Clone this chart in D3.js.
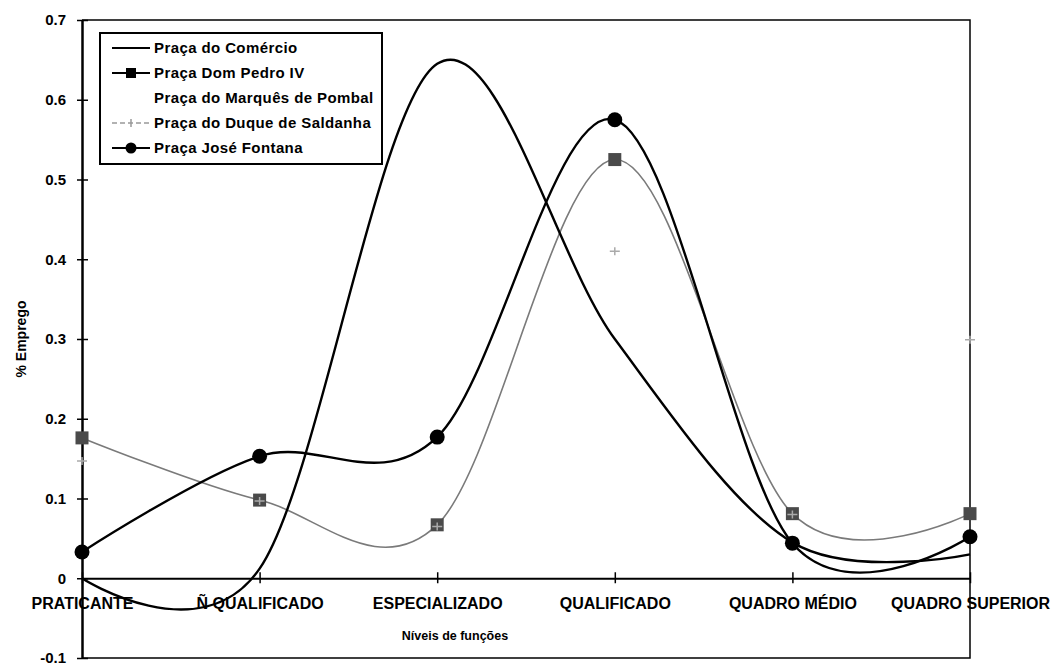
<!DOCTYPE html>
<html>
<head>
<meta charset="utf-8">
<script src="https://cdn.jsdelivr.net/npm/d3@7"></script>
<style>
  html, body { margin: 0; padding: 0; background: #fff; }
  svg { display: block; font-family: "Liberation Sans", Arial, Helvetica, sans-serif; font-weight: bold; }
</style>
</head>
<body>
<svg id="chart" width="1055" height="665"></svg>
<script>
// Job levels (x categories)
const categories = ["PRATICANTE", "Ñ QUALIFICADO", "ESPECIALIZADO", "QUALIFICADO", "QUADRO MÉDIO", "QUADRO SUPERIOR"];

// Share of employment by square
const comercio   = [0.000, 0.012, 0.645, 0.300, 0.045, 0.030];
const domPedro   = [0.176, 0.098, 0.067, 0.525, 0.081, 0.081];
const duque      = [0.147, 0.097, 0.065, 0.410, 0.080, 0.299];
const fontana    = [0.033, 0.153, 0.177, 0.575, 0.044, 0.052];

const seriesNames = ["Praça do Comércio", "Praça Dom Pedro IV", "Praça do Marquês de Pombal", "Praça do Duque de Saldanha", "Praça José Fontana"];

const yTicks = [-0.1, 0, 0.1, 0.2, 0.3, 0.4, 0.5, 0.6, 0.7];

const svg = d3.select("#chart");

const x = d3.scalePoint().domain(categories).range([82, 970]);
const y = d3.scaleLinear().domain([-0.1, 0.7]).range([658, 20]);

// Plot frame (top, right, bottom)
svg.append("path")
  .attr("d", `M${x.range()[0]},${y(0.7)}H${x.range()[1]}V${y(-0.1)}H${x.range()[0]}`)
  .attr("fill", "none").attr("stroke", "#000").attr("stroke-width", 1.5);

// Y axis
const yAxis = svg.append("g")
  .attr("transform", `translate(${x.range()[0]},0)`)
  .call(d3.axisLeft(y).tickValues(yTicks)
    .tickFormat(d => d === 0 ? "0" : (d < 0 ? "-" : "") + Math.abs(d).toFixed(1))
    .tickSizeInner(5).tickSizeOuter(0).tickPadding(11));
yAxis.select(".domain").attr("stroke-width", 2.5);
yAxis.selectAll(".tick line").attr("x1", 6).attr("stroke-width", 1.5);
yAxis.selectAll(".tick text").attr("font-size", 15).attr("font-weight", "bold").attr("fill", "#000")
  .attr("font-family", "'Liberation Sans', Arial, sans-serif");

// X axis at zero
const xAxis = svg.append("g")
  .attr("transform", `translate(0,${y(0)})`)
  .call(d3.axisBottom(x).tickSizeInner(5).tickSizeOuter(0).tickPadding(14));
xAxis.select(".domain").attr("stroke-width", 2);
xAxis.selectAll(".tick line").attr("y1", -6).attr("stroke-width", 1.5);
xAxis.selectAll(".tick text").attr("font-size", 16).attr("font-weight", "bold").attr("fill", "#000")
  .attr("font-family", "'Liberation Sans', Arial, sans-serif");

// Axis titles
svg.append("text")
  .attr("x", 455).attr("y", 640)
  .attr("text-anchor", "middle").attr("font-size", 12.5)
  .text("Níveis de funções");
svg.append("text")
  .attr("transform", "translate(26,339) rotate(-90)")
  .attr("text-anchor", "middle").attr("font-size", 14)
  .text("% Emprego");

// Series curves (smoothed)
const line = d3.line()
  .x((d, i) => x(categories[i]))
  .y(d => y(d))
  .curve(d3.curveCatmullRom.alpha(0));

svg.append("path").datum(domPedro).attr("d", line)
  .attr("fill", "none").attr("stroke", "#7a7a7a").attr("stroke-width", 1.6);
svg.append("path").datum(comercio).attr("d", line)
  .attr("fill", "none").attr("stroke", "#000").attr("stroke-width", 2.4);
svg.append("path").datum(fontana).attr("d", line)
  .attr("fill", "none").attr("stroke", "#000").attr("stroke-width", 2.4);

// Markers
svg.append("g").selectAll("rect").data(domPedro).join("rect")
  .attr("x", (d, i) => x(categories[i]) - 6.5)
  .attr("y", d => y(d) - 6.5)
  .attr("width", 13).attr("height", 13)
  .attr("fill", "#4a4a4a");

svg.append("g").selectAll("path").data(duque).join("path")
  .attr("d", (d, i) => {
    const cx = x(categories[i]), cy = y(d);
    return `M${cx - 5},${cy}H${cx + 5}M${cx},${cy - 4}V${cy + 4}`;
  })
  .attr("stroke", "#aaa").attr("stroke-width", 1.5).attr("fill", "none");

svg.append("g").selectAll("circle").data(fontana).join("circle")
  .attr("cx", (d, i) => x(categories[i]))
  .attr("cy", d => y(d))
  .attr("r", 7.5)
  .attr("fill", "#000");

// Legend
const legend = svg.append("g");
legend.append("rect")
  .attr("x", 100).attr("y", 33).attr("width", 282).attr("height", 131)
  .attr("fill", "#fff").attr("stroke", "#000").attr("stroke-width", 2);

const rowY = i => 48 + i * 25;
const x0 = 112, x1 = 150, xm = (x0 + x1) / 2;

seriesNames.forEach((name, i) => {
  const g = legend.append("g");
  const yy = rowY(i);
  if (i === 0 || i === 1 || i === 4) {
    g.append("line").attr("x1", x0).attr("x2", x1).attr("y1", yy).attr("y2", yy)
      .attr("stroke", "#000").attr("stroke-width", 2);
  }
  if (i === 1) {
    g.append("rect").attr("x", xm - 5).attr("y", yy - 5).attr("width", 10).attr("height", 10).attr("fill", "#000");
  }
  if (i === 3) {
    g.append("line").attr("x1", x0).attr("x2", x1).attr("y1", yy).attr("y2", yy)
      .attr("stroke", "#999").attr("stroke-width", 1.5).attr("stroke-dasharray", "5,3");
    g.append("path").attr("d", `M${xm},${yy - 4}V${yy + 4}`).attr("stroke", "#999").attr("stroke-width", 1.5);
  }
  if (i === 4) {
    g.append("circle").attr("cx", xm).attr("cy", yy).attr("r", 5.5).attr("fill", "#000");
  }
  g.append("text").attr("x", 154).attr("y", yy + 5)
    .attr("font-size", 15).attr("letter-spacing", 0.4)
    .text(name);
});
</script>
</body>
</html>
